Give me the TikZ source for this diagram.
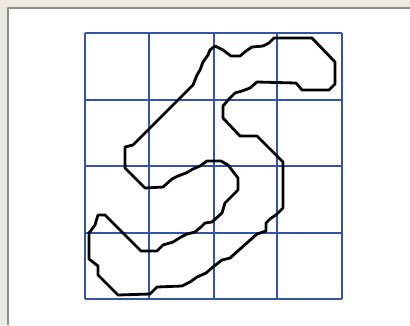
\documentclass[tikz,border=0pt]{standalone}
\usepackage{tikz}
\usepackage{xcolor}
\definecolor{paneltan}{RGB}{236,233,224}
\definecolor{gridblue}{RGB}{52,84,168}

\begin{document}
\begin{tikzpicture}[x=1pt, y=-1pt, line join=round]
    \useasboundingbox (0,0) rectangle (410,325);
    %\draw[step=10, gray,very thin] (0,0) grid (410,325);
    \fill[paneltan] (0,0) rectangle (410,325);
    \fill[white] (8,8) rectangle (410,325);
    \draw[gray!90, line width=1.2pt] (8,325)--(8,8)--(410,8);
    \begin{scope}[gridblue, line width=1.8pt]
    \draw (85,33)--(85,299);
    \draw (149,33)--(149,299);
    \draw (214,33)--(214,299);
    \draw (277,33)--(277,299);
    \draw (342,33)--(342,299);
    \draw (85,33)--(342,33);
    \draw (85,100)--(342,100);
    \draw (85,166)--(342,166);
    \draw (85,233)--(342,233);
    \draw (85,299)--(342,299);
    \end{scope}
    \begin{scope}[black, line width=2.8pt]
    % outline of the figure
    \draw (215,46)--(223,50)--(231,56)--(240,56)--(246,51)--(252,47)
      --(263,46)--(269,43)--(274,38)--(312,38)--(335,62)--(335,84)
      --(329,90)--(302,90)--(296,83)--(257,82)--(250,88)--(242,91)
      --(235,93)--(229,99)--(223,106)--(223,118)--(240,136)--(257,136)
      --(283,162)--(283,208)--(277,214)--(270,219)--(266,223)--(266,231)
      --(257,234)--(230,258)--(222,260)--(213,267)--(206,273)--(197,277)
      --(190,282)--(182,286)--(157,287)--(150,294)--(118,295)--(98,275)
      --(98,266)--(89,259)--(89,233)--(95,225)--(98,215)--(105,215)
      --(141,251)--(157,251)--(163,245)--(173,242)--(181,237)--(187,234)
      --(195,232)--(201,227)--(205,223)--(212,222)--(222,213)--(225,203)
      --(238,190)--(238,178)--(228,165)--(221,161)--(207,161)--(200,166)
      --(193,169)--(186,173)--(178,176)--(172,179)--(163,187)--(145,188)
      --(125,168)--(125,147)--(133,145)--(193,85)--(197,75)--(200,70)
      --(203,62)--(208,55)--(210,50)--cycle;
    \end{scope}
\end{tikzpicture}
\end{document}
